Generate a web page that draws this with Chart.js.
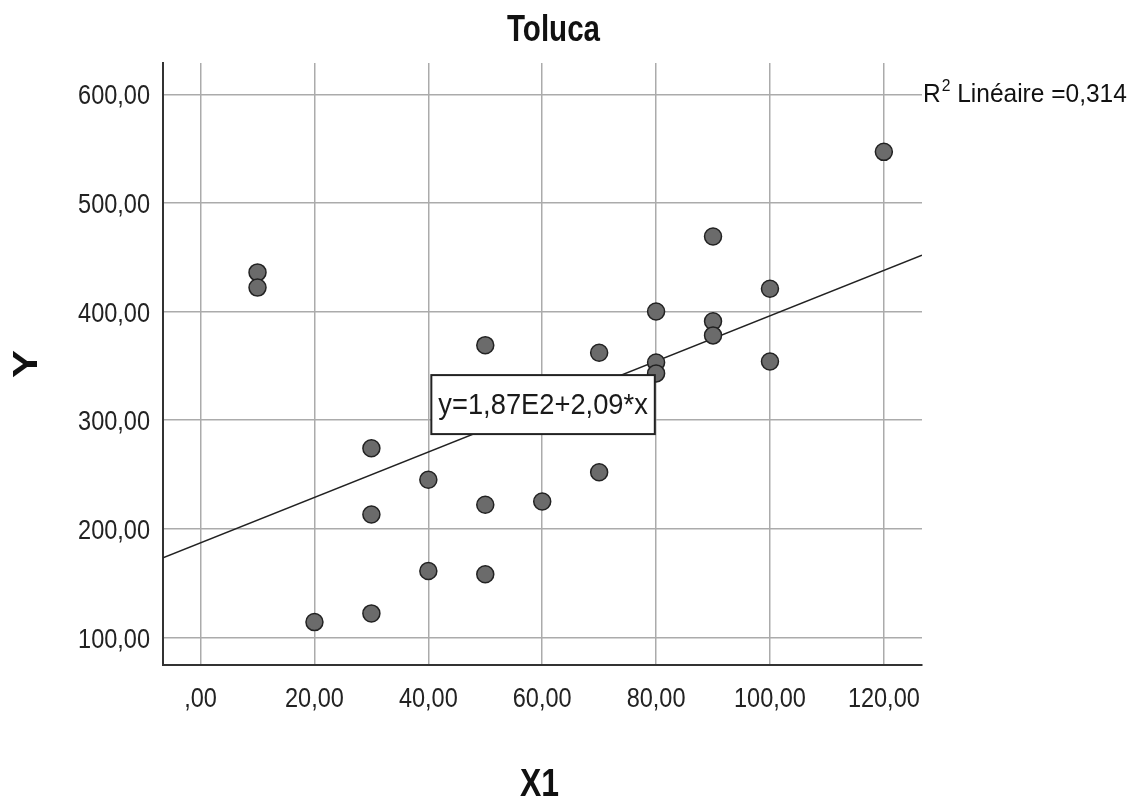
<!DOCTYPE html>
<html>
<head>
<meta charset="utf-8">
<title>Toluca</title>
<script src="https://cdn.jsdelivr.net/npm/chart.js@4/dist/chart.umd.min.js"></script>
<style>
  body { margin: 0; background: #fff; }
  canvas { display: block; }
</style>
</head>
<body>
<canvas id="scatter" width="1139" height="803"></canvas>
<script>
const FONT = '"Liberation Sans", Arial, sans-serif';

// data
const x1Values = [10, 10, 20, 30, 30, 30, 40, 40, 50, 50, 50, 60, 70, 70, 80, 80, 80, 90, 90, 90, 100, 100, 120];
const yValues = [436, 422, 114, 274, 213, 122, 245, 161, 369, 222, 158, 225, 362, 252, 400, 353, 343, 469, 391, 378, 421, 354, 547];

const xTicks = [0, 20, 40, 60, 80, 100, 120];
const xTickLabels = [',00', '20,00', '40,00', '60,00', '80,00', '100,00', '120,00'];
const yTicks = [100, 200, 300, 400, 500, 600];
const yTickLabels = ['100,00', '200,00', '300,00', '400,00', '500,00', '600,00'];

const X_MIN = -6.6, X_MAX = 126.7;
const Y_MIN = 74.5, Y_MAX = 628.8;

// fit line as printed on the chart
const intercept = 187;
const slope = 2.09;
const fitLabel = 'y=1,87E2+2,09*x';
const r2Text = '0,314';

const points = x1Values.map((x, i) => ({ x: x, y: yValues[i] }));
const fitLine = [X_MIN, X_MAX].map(x => ({ x: x, y: intercept + slope * x }));

// the original is squeezed sideways, so text gets a horizontal scale
function squeezed(ctx, text, x, y, sx, align) {
    ctx.save();
    ctx.translate(x, y);
    ctx.scale(sx, 1);
    ctx.textAlign = align;
    ctx.fillText(text, 0, 0);
    ctx.restore();
}

const labels = {
    id: 'labels',
    afterDraw(chart) {
        const ctx = chart.ctx;
        const area = chart.chartArea;
        const xs = chart.scales.x;
        const ys = chart.scales.y;
        ctx.save();
        ctx.textBaseline = 'middle';

        // tick labels
        ctx.fillStyle = '#222';
        ctx.font = '28px ' + FONT;
        xTicks.forEach((v, i) => {
            squeezed(ctx, xTickLabels[i], xs.getPixelForValue(v), area.bottom + 34, 0.84, 'center');
        });
        yTicks.forEach((v, i) => {
            squeezed(ctx, yTickLabels[i], area.left - 13, ys.getPixelForValue(v) + 2.5, 0.84, 'right');
        });

        // title and axis titles
        ctx.fillStyle = '#111';
        ctx.font = 'bold 36px ' + FONT;
        squeezed(ctx, 'Toluca', (area.left + area.right) / 2 + 11, area.top - 32, 0.82, 'center');
        ctx.font = 'bold 38px ' + FONT;
        squeezed(ctx, 'X1', (area.left + area.right) / 2 - 3, area.bottom + 121, 0.84, 'center');
        ctx.save();
        ctx.translate(28, (area.top + area.bottom) / 2);
        ctx.scale(0.82, 1);
        ctx.rotate(-Math.PI / 2);
        ctx.font = 'bold 42px ' + FONT;
        ctx.textAlign = 'center';
        ctx.fillText('Y', 0, 0);
        ctx.restore();

        // R2 label next to the top grid line
        const ry = ys.getPixelForValue(600);
        ctx.textBaseline = 'alphabetic';
        ctx.font = '25px ' + FONT;
        let tx = area.right + 1;
        squeezed(ctx, 'R', tx, ry + 8, 0.98, 'left');
        tx += ctx.measureText('R').width * 0.98;
        ctx.font = '16px ' + FONT;
        squeezed(ctx, '2', tx + 1, ry - 3, 0.98, 'left');
        tx += ctx.measureText('2').width * 0.98 + 1;
        ctx.font = '25px ' + FONT;
        squeezed(ctx, ' Linéaire =' + r2Text, tx, ry + 8, 0.98, 'left');

        // equation box
        ctx.font = '30px ' + FONT;
        const w = ctx.measureText(fitLabel).width * 0.91;
        const bx = xs.getPixelForValue(40) + 3;
        const by = ys.getPixelForValue(300) - 45;
        const bw = w + 14, bh = 59;
        ctx.fillStyle = '#fff';
        ctx.fillRect(bx, by, bw, bh);
        ctx.strokeStyle = '#222';
        ctx.lineWidth = 2;
        ctx.strokeRect(bx, by, bw, bh);
        ctx.fillStyle = '#1a1a1a';
        ctx.textBaseline = 'middle';
        squeezed(ctx, fitLabel, bx + 7, by + bh / 2 + 1, 0.91, 'left');
        ctx.restore();
    }
};

new Chart(document.getElementById('scatter'), {
    type: 'scatter',
    data: {
        datasets: [
            {
                label: 'Y',
                data: points,
                pointRadius: 8.5,
                pointBackgroundColor: '#6b6b6b',
                pointBorderColor: '#222',
                pointBorderWidth: 1.5,
                order: 1
            },
            {
                label: 'Linéaire',
                type: 'line',
                data: fitLine,
                borderColor: '#222',
                borderWidth: 1.5,
                pointRadius: 0,
                fill: false,
                order: 2
            }
        ]
    },
    options: {
        responsive: false,
        animation: false,
        devicePixelRatio: 1,
        layout: { padding: { top: 63, right: 217, left: 0, bottom: 0 } },
        plugins: {
            legend: { display: false },
            tooltip: { enabled: false },
            title: { display: false }
        },
        scales: {
            x: {
                type: 'linear',
                min: X_MIN,
                max: X_MAX,
                afterBuildTicks: scale => { scale.ticks = xTicks.map(v => ({ value: v })); },
                afterFit: scale => { scale.height = 138; },
                ticks: { display: false },
                grid: { color: '#ababab', lineWidth: 1.5, drawTicks: false },
                border: { color: '#333', width: 2 }
            },
            y: {
                type: 'linear',
                min: Y_MIN,
                max: Y_MAX,
                afterBuildTicks: scale => { scale.ticks = yTicks.map(v => ({ value: v })); },
                afterFit: scale => { scale.width = 163; },
                ticks: { display: false },
                grid: { color: '#ababab', lineWidth: 1.5, drawTicks: false },
                border: { color: '#333', width: 2 }
            }
        }
    },
    plugins: [labels]
});
</script>
</body>
</html>
